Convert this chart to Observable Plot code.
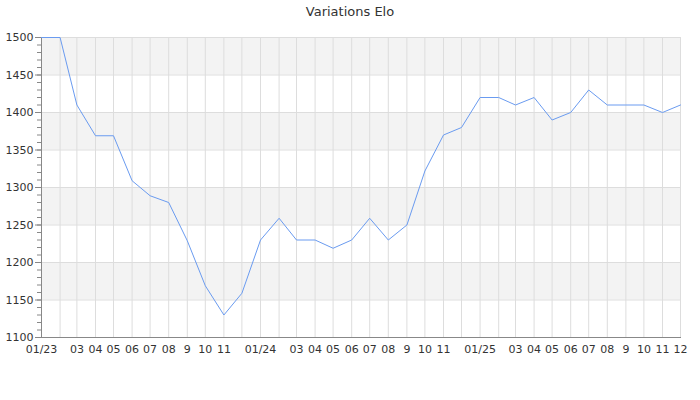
<!DOCTYPE html>
<html>
<head>
<meta charset="utf-8">
<script src="https://cdn.jsdelivr.net/npm/d3@7"></script>
<script src="https://cdn.jsdelivr.net/npm/@observablehq/plot@0.6"></script>
<style>
  html, body { margin: 0; padding: 0; background: #fff; }
  #title { width: 700px; height: 24px; line-height: 24px; text-align: center; font-family: "DejaVu Sans", sans-serif; font-size: 13px; color: #333; }
</style>
</head>
<body>
<div id="title">Variations Elo</div>
<div id="chart"></div>
<script>
const months = [
  "2023-01","2023-02","2023-03","2023-04","2023-05","2023-06","2023-07","2023-08","2023-09","2023-10","2023-11","2023-12",
  "2024-01","2024-02","2024-03","2024-04","2024-05","2024-06","2024-07","2024-08","2024-09","2024-10","2024-11","2024-12",
  "2025-01","2025-02","2025-03","2025-04","2025-05","2025-06","2025-07","2025-08","2025-09","2025-10","2025-11","2025-12"
];
const eloValues = [
  1500,1500,1410,1369,1369,1309,1289,1280,1229,1169,1130,1159,
  1230,1259,1230,1230,1219,1230,1259,1230,1250,1322,1370,1380,
  1420,1420,1410,1420,1390,1400,1430,1410,1410,1410,1400,1410
];
const tickLabels = [
  "01/23","","03","04","05","06","07","08","9","10","11","",
  "01/24","","03","04","05","06","07","08","9","10","11","",
  "01/25","","03","04","05","06","07","08","9","10","11","12"
];
const yMajorTicks = [1100,1150,1200,1250,1300,1350,1400,1450,1500];
const yMinorTicks = d3.range(1100, 1501, 10);
const bands = [[1450,1500],[1350,1400],[1250,1300],[1150,1200]];

const dates = months.map(m => new Date(m + "-01T00:00:00Z"));
const data = dates.map((d, i) => ({date: d, elo: eloValues[i]}));
const labelByTime = new Map(dates.map((d, i) => [d.getTime(), tickLabels[i]]));
const bandData = bands.map(([a, b]) => ({y1: a, y2: b}));

const chart = Plot.plot({
  width: 700,
  height: 376,
  marginTop: 13,
  marginBottom: 63,
  marginLeft: 41,
  marginRight: 20,
  style: {fontFamily: "DejaVu Sans, sans-serif", fontSize: "11px", color: "#333", background: "#fff"},
  x: {type: "utc", domain: [dates[0], dates[dates.length - 1]]},
  y: {domain: [1100, 1500]},
  marks: [
    Plot.rect(bandData, {y1: "y1", y2: "y2", fill: "#f3f3f3"}),
    Plot.gridY(yMajorTicks, {stroke: "#dddddd", strokeOpacity: 1}),
    Plot.gridX(dates, {stroke: "#dddddd", strokeOpacity: 1}),
    Plot.axisY(yMinorTicks, {tickSize: 4, text: null, stroke: "#888", label: null}),
    Plot.axisY(yMajorTicks, {tickSize: 6, tickPadding: 2, stroke: "#888", fill: "#333", tickFormat: d => String(d), label: null}),
    Plot.axisX(dates, {tickSize: 0, tickPadding: 8, fill: "#333", tickFormat: d => labelByTime.get(d.getTime()), label: null}),
    Plot.frame({anchor: "left", stroke: "#888"}),
    Plot.frame({anchor: "bottom", stroke: "#888"}),
    Plot.line(data, {x: "date", y: "elo", stroke: "#6a9bf0", strokeWidth: 1})
  ]
});
document.getElementById("chart").appendChild(chart);
</script>
</body>
</html>
